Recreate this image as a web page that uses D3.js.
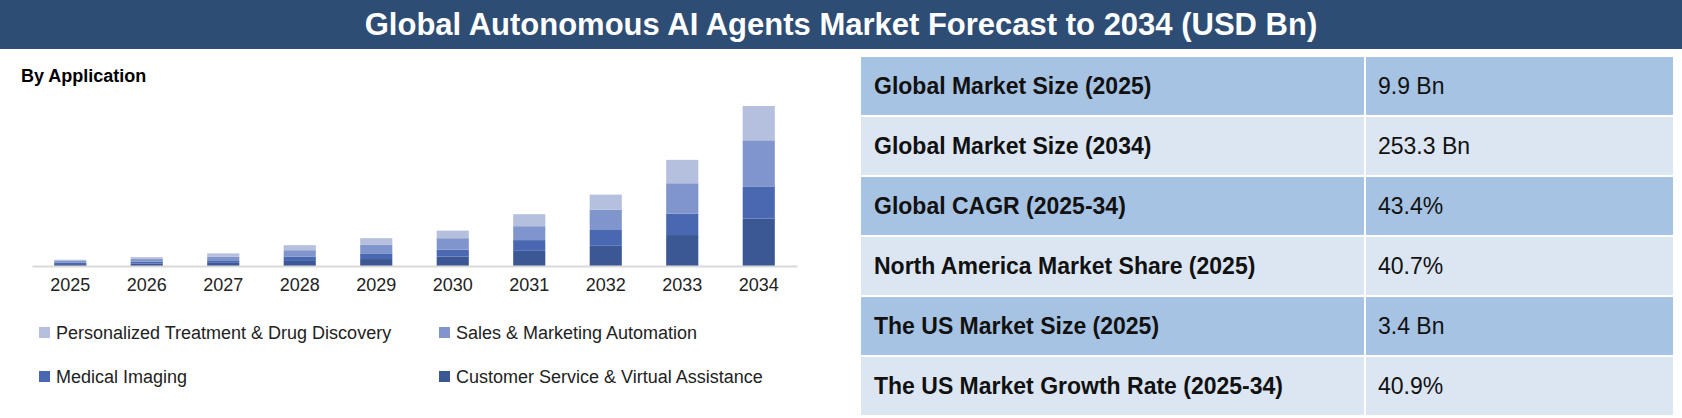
<!DOCTYPE html>
<html><head><meta charset="utf-8">
<script src="https://cdn.jsdelivr.net/npm/d3@7"></script>
<style>body{margin:0;background:#fff}svg{display:block}</style>
</head><body><svg id="c" width="1682" height="418"></svg>
<script>
const years = ["2025","2026","2027","2028","2029","2030","2031","2032","2033","2034"];
const seriesNames = ["Customer Service & Virtual Assistance","Medical Imaging","Sales & Marketing Automation","Personalized Treatment & Drug Discovery"];
const customerService = [3, 4, 5, 8, 11, 15, 24, 32, 49, 75];
const medicalImaging = [2, 3, 4, 7, 9, 11, 17, 25, 34, 51];
const salesMarketing = [2.9, 4, 6, 10, 14, 18, 22, 32, 48, 73];
const personalized = [2, 3, 5, 8, 10, 12, 19, 24, 37, 54.3];
const colors = ["#3c5894","#4a68b2","#7f95cb","#b5bfde"];
const tableLabels = ["Global Market Size (2025)","Global Market Size (2034)","Global CAGR (2025-34)","North America Market Share (2025)","The US Market Size (2025)","The US Market Growth Rate (2025-34)"];
const tableValues = ["9.9 Bn","253.3 Bn","43.4%","40.7%","3.4 Bn","40.9%"];
const title = "Global Autonomous AI Agents Market Forecast to 2034 (USD Bn)";

const font = "'Liberation Sans Narrow','Arial Narrow','Liberation Sans',sans-serif";
const svg = d3.select("#c").style("font-family", font);
svg.append("rect").attr("x",0).attr("y",0).attr("width",1682).attr("height",49).attr("fill","#2e4d74");
svg.append("text").attr("x",841).attr("y",35).attr("text-anchor","middle").attr("fill","#fff")
  .attr("font-size",31).attr("font-weight","bold").text(title);

svg.append("text").attr("x",21).attr("y",82).attr("font-size",18).attr("font-weight","bold").text("By Application");

const series = [customerService, medicalImaging, salesMarketing, personalized];
const data = years.map((y,i)=>{const o={year:y}; series.forEach((s,k)=>o["s"+k]=s[i]); return o;});
const stack = d3.stack().keys(["s0","s1","s2","s3"])(data);
const x = d3.scaleBand().domain(years).range([32,797]).paddingInner(0.58).paddingOuter(0.29);
const y = d3.scaleLinear().domain([0,253.3]).range([266,106]);
svg.append("g").selectAll("g").data(stack).join("g").attr("fill",(d,i)=>colors[i])
  .selectAll("rect").data(d=>d).join("rect")
  .attr("x",d=>x(d.data.year)).attr("width",x.bandwidth())
  .attr("y",d=>y(d[1])).attr("height",d=>y(d[0])-y(d[1]));
const ax = svg.append("g").attr("transform","translate(0,266)").call(d3.axisBottom(x).tickSize(0).tickPadding(12));
ax.select(".domain").attr("stroke","#d9d9d9").attr("stroke-width",2);
ax.selectAll("text").attr("font-size",18).attr("fill","#222").style("font-family",font);

const legend = [[3,39,339],[2,439,339],[1,39,383],[0,439,383]];
legend.forEach(([k,lx,ly])=>{
  svg.append("rect").attr("x",lx).attr("y",ly-12).attr("width",11).attr("height",11).attr("fill",colors[k]);
  svg.append("text").attr("x",lx+17).attr("y",ly).attr("font-size",18).attr("fill","#222").text(seriesNames[k]);
});

const rowY = d3.scaleBand().domain(d3.range(6)).range([57,415]).paddingInner(0.035);
const tg = svg.append("g");
tableLabels.forEach((t,i)=>{
  const fill = i%2===0 ? "#a7c3e3" : "#dce6f2";
  tg.append("rect").attr("x",861).attr("y",rowY(i)).attr("width",503).attr("height",rowY.bandwidth()).attr("fill",fill);
  tg.append("rect").attr("x",1366).attr("y",rowY(i)).attr("width",307).attr("height",rowY.bandwidth()).attr("fill",fill);
  tg.append("text").attr("x",874).attr("y",rowY(i)+rowY.bandwidth()/2+8).attr("font-size",23).attr("font-weight","bold").attr("fill","#111").text(t);
  tg.append("text").attr("x",1378).attr("y",rowY(i)+rowY.bandwidth()/2+8).attr("font-size",23).attr("fill","#111").text(tableValues[i]);
});
</script></body></html>
